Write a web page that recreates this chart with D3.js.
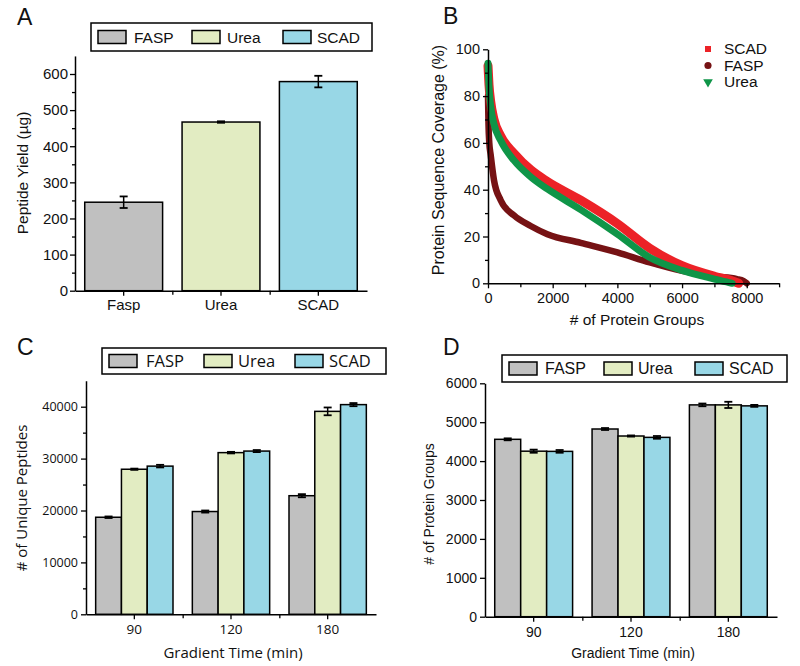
<!DOCTYPE html>
<html><head><meta charset="utf-8">
<script src="https://cdn.jsdelivr.net/npm/d3@7/dist/d3.min.js"></script>
<style>body{margin:0;background:#fff}svg{display:block}</style>
</head><body>
<script>
// ---------------- DATA ----------------
const methods = ["FASP", "Urea", "SCAD"];

// Panel A
const yieldCategories = ["Fasp", "Urea", "SCAD"];
const yieldValues = [245, 467, 579];
const yieldErrors = [16, 2, 16];
const yieldTicks = [0, 100, 200, 300, 400, 500, 600];

// Panel B  ([protein groups, coverage %])
const coverageSCAD = [[0,93],[30,85],[80,78],[186,70],[392,63],[804,55.5],[1320,48.5],[1835,43.5],[2866,35.5],[4000,25.5],[5000,15],[6000,7.5],[7000,3],[7500,1.3],[7750,0]];
const coverageFASP = [[0,80],[15,68],[40,60],[82,55],[186,44],[392,35.5],[804,29],[1320,24.5],[1835,21],[2866,17.3],[4000,13.2],[5000,8.9],[6000,5.3],[7000,2.9],[7700,1.8],[7900,1],[8000,0]];
const coverageUrea = [[0,94],[30,84],[80,76],[186,68],[392,61],[804,52.5],[1320,45.5],[1835,40.3],[2866,31.5],[4000,21],[5000,11],[6000,5.5],[7000,1.8],[7450,0.3],[7550,0]];
const coverageXTicks = [0, 2000, 4000, 6000, 8000];
const coverageYTicks = [0, 20, 40, 60, 80, 100];

// Panel C
const gradientTimes = ["90", "120", "180"];
const peptidesFASP = [18700, 19800, 22850];
const peptidesUrea = [27950, 31150, 39100];
const peptidesSCAD = [28550, 31450, 40400];
const peptidesErrFASP = [150, 200, 300];
const peptidesErrUrea = [120, 150, 750];
const peptidesErrSCAD = [250, 200, 300];
const peptidesTicks = [0, 10000, 20000, 30000, 40000];

// Panel D
const groupsFASP = [4560, 4825, 5445];
const groupsUrea = [4255, 4645, 5445];
const groupsSCAD = [4250, 4610, 5420];
const groupsErrFASP = [25, 25, 35];
const groupsErrUrea = [40, 15, 80];
const groupsErrSCAD = [35, 35, 25];
const groupsTicks = [0, 1000, 2000, 3000, 4000, 5000, 6000];

// ---------------- STYLE ----------------
const barColors = {FASP: "#c0c0c0", Urea: "#e2ecc2", SCAD: "#98d7e6"};
const curveColors = {SCAD: "#ec2227", FASP: "#761214", Urea: "#0f9548"};
const FONT = "'Liberation Sans', Arial, sans-serif";
const FONT_C = "'Open Sans', 'Liberation Sans', sans-serif";

const svg = d3.select("body").append("svg").attr("width", 800).attr("height", 666);

function styleAxis(g, font, size) {
  g.select(".domain").attr("stroke", "#000").attr("stroke-width", 1.5);
  g.selectAll(".tick line").attr("stroke", "#000").attr("stroke-width", 1.3);
  g.selectAll("text").attr("font-family", font).attr("font-size", size).attr("fill", "#111");
}

function panelLetter(x, y, t) {
  svg.append("text").attr("x", x).attr("y", y).text(t)
    .attr("font-family", FONT).attr("font-size", 23).attr("fill", "#111");
}

function legendBox(x0, y0, w, h, entries, font, fs) {
  const g = svg.append("g");
  g.append("rect").attr("x", x0).attr("y", y0).attr("width", w).attr("height", h)
    .attr("fill", "#fff").attr("stroke", "#000").attr("stroke-width", 1.5);
  entries.forEach(e => {
    g.append("rect").attr("x", e.sx).attr("y", y0 + (h - 13) / 2).attr("width", 28).attr("height", 13)
      .attr("fill", barColors[e.name]).attr("stroke", "#000").attr("stroke-width", 1.5);
    g.append("text").attr("x", e.tx).attr("y", y0 + h / 2).attr("dy", "0.36em").text(e.name)
      .attr("font-family", font).attr("font-size", fs).attr("fill", "#111");
  });
}

function errBar(g, cx, yTop, yBot, cap) {
  g.append("line").attr("x1", cx).attr("x2", cx).attr("y1", yTop).attr("y2", yBot).attr("stroke", "#000").attr("stroke-width", 1.5);
  g.append("line").attr("x1", cx - cap).attr("x2", cx + cap).attr("y1", yTop).attr("y2", yTop).attr("stroke", "#000").attr("stroke-width", 1.8);
  g.append("line").attr("x1", cx - cap).attr("x2", cx + cap).attr("y1", yBot).attr("y2", yBot).attr("stroke", "#000").attr("stroke-width", 1.8);
}

// ---------------- PANEL A ----------------
(function () {
  const left = 75, right = 367, bottom = 290.7;
  const x = d3.scaleBand().domain(yieldCategories).range([left, right]).paddingInner(0.2).paddingOuter(0.1);
  const y = d3.scaleLinear().domain([0, 650]).range([bottom, bottom - 0.36117 * 650]);
  const g = svg.append("g");
  g.selectAll("rect.bar").data(yieldValues).join("rect")
    .attr("x", (d, i) => x(yieldCategories[i])).attr("width", x.bandwidth())
    .attr("y", d => y(d)).attr("height", d => y(0) - y(d))
    .attr("fill", (d, i) => barColors[methods[i]]).attr("stroke", "#000").attr("stroke-width", 1.5);
  yieldValues.forEach((v, i) => {
    const cx = x(yieldCategories[i]) + x.bandwidth() / 2;
    errBar(g, cx, y(v + yieldErrors[i]), y(v - yieldErrors[i]), 4);
  });
  const ym = g.append("g").attr("transform", `translate(${left},0)`)
    .call(d3.axisLeft(y).tickValues(d3.range(50, 650, 100)).tickSize(3).tickFormat(""));
  ym.select(".domain").remove(); ym.selectAll("line").attr("stroke", "#000").attr("stroke-width", 1.3);
  const ya = g.append("g").attr("transform", `translate(${left},0)`)
    .call(d3.axisLeft(y).tickValues(yieldTicks).tickSize(5).tickSizeOuter(0).tickPadding(2));
  styleAxis(ya, FONT, 15);
  const xi = d3.scaleLinear().domain([0, 3]).range([left, right]);
  const xm = g.append("g").attr("transform", `translate(0,${bottom})`)
    .call(d3.axisBottom(xi).tickValues([1, 2]).tickSize(4).tickFormat(""));
  xm.select(".domain").remove(); xm.selectAll("line").attr("stroke", "#000").attr("stroke-width", 1.3);
  const xa = g.append("g").attr("transform", `translate(0,${bottom})`)
    .call(d3.axisBottom(x).tickSize(5).tickSizeOuter(0).tickPadding(4));
  styleAxis(xa, FONT, 15);
  g.append("text").attr("transform", "translate(22.5,173) rotate(-90)").attr("text-anchor", "middle").attr("dy", "0.35em")
    .text("Peptide Yield (µg)").attr("font-family", FONT).attr("font-size", 15.5).attr("fill", "#111");
  legendBox(91, 23, 281, 28, [
    {name: "FASP", sx: 98, tx: 134}, {name: "Urea", sx: 192, tx: 227}, {name: "SCAD", sx: 283, tx: 317}], FONT, 15.5);
  panelLetter(17, 25, "A");
})();

// ---------------- PANEL B ----------------
(function () {
  const x = d3.scaleLinear().domain([0, 9000]).range([488, 779.1]);
  const y = d3.scaleLinear().domain([0, 100]).range([283.3, 49.3]);
  const g = svg.append("g");
  const line = d3.line().x(d => x(d[0])).y(d => y(d[1])).curve(d3.curveMonotoneX);
  [["FASP", coverageFASP, 6.5], ["SCAD", coverageSCAD, 9], ["Urea", coverageUrea, 7]].forEach(([k, data, w]) => {
    g.append("path").datum(data).attr("d", line).attr("fill", "none")
      .attr("stroke", curveColors[k]).attr("stroke-width", w).attr("stroke-linecap", "round").attr("stroke-linejoin", "round");
  });
  const ym = g.append("g").attr("transform", "translate(488,0)")
    .call(d3.axisLeft(y).tickValues(d3.range(10, 100, 20)).tickSize(3).tickFormat(""));
  ym.select(".domain").remove(); ym.selectAll("line").attr("stroke", "#000").attr("stroke-width", 1.3);
  const ya = g.append("g").attr("transform", "translate(488,0)")
    .call(d3.axisLeft(y).tickValues(coverageYTicks).tickSize(5).tickSizeOuter(0).tickPadding(3));
  styleAxis(ya, FONT, 14.5);
  const xm = g.append("g").attr("transform", "translate(0,283.3)")
    .call(d3.axisBottom(x).tickValues(d3.range(1000, 10000, 2000)).tickSize(4).tickFormat(""));
  xm.select(".domain").remove(); xm.selectAll("line").attr("stroke", "#000").attr("stroke-width", 1.3);
  const xa = g.append("g").attr("transform", "translate(0,283.3)")
    .call(d3.axisBottom(x).tickValues(coverageXTicks).tickSize(5).tickSizeOuter(0).tickPadding(4).tickFormat(d3.format("d")));
  styleAxis(xa, FONT, 14.5);
  g.append("text").attr("x", 637).attr("y", 325).attr("text-anchor", "middle")
    .text("# of Protein Groups").attr("font-family", FONT).attr("font-size", 15.5).attr("fill", "#111");
  g.append("text").attr("transform", "translate(438.5,160) rotate(-90)").attr("text-anchor", "middle").attr("dy", "0.35em")
    .text("Protein Sequence Coverage (%)").attr("font-family", FONT).attr("font-size", 16).attr("fill", "#111");
  const lg = g.append("g");
  const names = ["SCAD", "FASP", "Urea"];
  const ly = [49, 65.5, 82];
  const symbols = [d3.symbolSquare, d3.symbolCircle, d3.symbolTriangle];
  names.forEach((n, i) => {
    lg.append("path").attr("d", d3.symbol(symbols[i], i === 0 ? 36 : 40)())
      .attr("transform", `translate(708,${ly[i]})` + (i === 2 ? " rotate(180)" : ""))
      .attr("fill", curveColors[n]);
    lg.append("text").attr("x", 724).attr("y", ly[i]).attr("dy", "0.35em").text(n)
      .attr("font-family", FONT).attr("font-size", 15.5).attr("fill", "#111");
  });
  panelLetter(443, 24, "B");
})();

// ---------------- GROUPED BAR PANEL ----------------
function groupedPanel(opt) {
  const {left, right, bottom, top, yMax, ticks, minor, series, errs, font, tickFs, xTickFs, yTitle, yTitlePos} = opt;
  const x0 = d3.scaleBand().domain(gradientTimes).range([left, right]).paddingInner(0.2).paddingOuter(0.1);
  const x1 = d3.scaleBand().domain(methods).range([0, x0.bandwidth()]);
  const y = d3.scaleLinear().domain([0, yMax]).range([bottom, top]);
  const g = svg.append("g");
  methods.forEach((m, si) => {
    g.selectAll(null).data(series[si]).join("rect")
      .attr("x", (d, i) => x0(gradientTimes[i]) + x1(m)).attr("width", x1.bandwidth())
      .attr("y", d => y(d)).attr("height", d => y(0) - y(d))
      .attr("fill", barColors[m]).attr("stroke", "#000").attr("stroke-width", 1.5);
  });
  methods.forEach((m, si) => {
    series[si].forEach((v, i) => {
      const cx = x0(gradientTimes[i]) + x1(m) + x1.bandwidth() / 2;
      errBar(g, cx, y(v + errs[si][i]), y(v - errs[si][i]), 4);
    });
  });
  if (minor) {
    const ym = g.append("g").attr("transform", `translate(${left},0)`)
      .call(d3.axisLeft(y).tickValues(minor).tickSize(3).tickFormat(""));
    ym.select(".domain").remove(); ym.selectAll("line").attr("stroke", "#000").attr("stroke-width", 1.3);
  }
  const ya = g.append("g").attr("transform", `translate(${left},0)`)
    .call(d3.axisLeft(y).tickValues(ticks).tickSize(5).tickSizeOuter(0).tickPadding(3).tickFormat(d3.format("d")));
  styleAxis(ya, font, tickFs);
  const xi = d3.scaleLinear().domain([0, 3]).range([left, right]);
  const xm = g.append("g").attr("transform", `translate(0,${bottom})`)
    .call(d3.axisBottom(xi).tickValues([1, 2]).tickSize(4).tickFormat(""));
  xm.select(".domain").remove(); xm.selectAll("line").attr("stroke", "#000").attr("stroke-width", 1.3);
  const xa = g.append("g").attr("transform", `translate(0,${bottom})`)
    .call(d3.axisBottom(x0).tickSize(5).tickSizeOuter(0).tickPadding(5));
  styleAxis(xa, font, xTickFs);
  g.append("text").attr("x", (left + right) / 2 + 2).attr("y", 658).attr("text-anchor", "middle")
    .text("Gradient Time (min)").attr("font-family", font).attr("font-size", opt.titleFs).attr("fill", "#111");
  g.append("text").attr("transform", `translate(${yTitlePos[0]},${yTitlePos[1]}) rotate(-90)`).attr("text-anchor", "middle").attr("dy", "0.35em")
    .text(yTitle).attr("font-family", font).attr("font-size", opt.titleFs).attr("fill", "#111");
}

// ---------------- PANEL C ----------------
groupedPanel({
  left: 86, right: 376, bottom: 614.3, top: 614.3 - 0.00519 * 45000, yMax: 45000,
  ticks: peptidesTicks, minor: d3.range(5000, 45000, 10000),
  series: [peptidesFASP, peptidesUrea, peptidesSCAD],
  errs: [peptidesErrFASP, peptidesErrUrea, peptidesErrSCAD],
  font: FONT_C, tickFs: 12.5, xTickFs: 13.5, titleFs: 15, yTitle: "# of Unique Peptides", yTitlePos: [21.5, 498]
});
legendBox(102, 348, 284, 26, [
  {name: "FASP", sx: 109, tx: 146}, {name: "Urea", sx: 204, tx: 238}, {name: "SCAD", sx: 295, tx: 329}], FONT_C, 16.5);
panelLetter(17, 355, "C");

// ---------------- PANEL D ----------------
groupedPanel({
  left: 485, right: 777, bottom: 616.7, top: 383.3, yMax: 6000,
  ticks: groupsTicks, minor: null,
  series: [groupsFASP, groupsUrea, groupsSCAD],
  errs: [groupsErrFASP, groupsErrUrea, groupsErrSCAD],
  font: FONT, tickFs: 14, xTickFs: 14, titleFs: 14, yTitle: "# of Protein Groups", yTitlePos: [429, 504]
});
legendBox(502, 355, 285, 27, [
  {name: "FASP", sx: 509, tx: 545}, {name: "Urea", sx: 604, tx: 638}, {name: "SCAD", sx: 695, tx: 729}], FONT, 16);
panelLetter(443, 355, "D");
</script>
</body></html>
